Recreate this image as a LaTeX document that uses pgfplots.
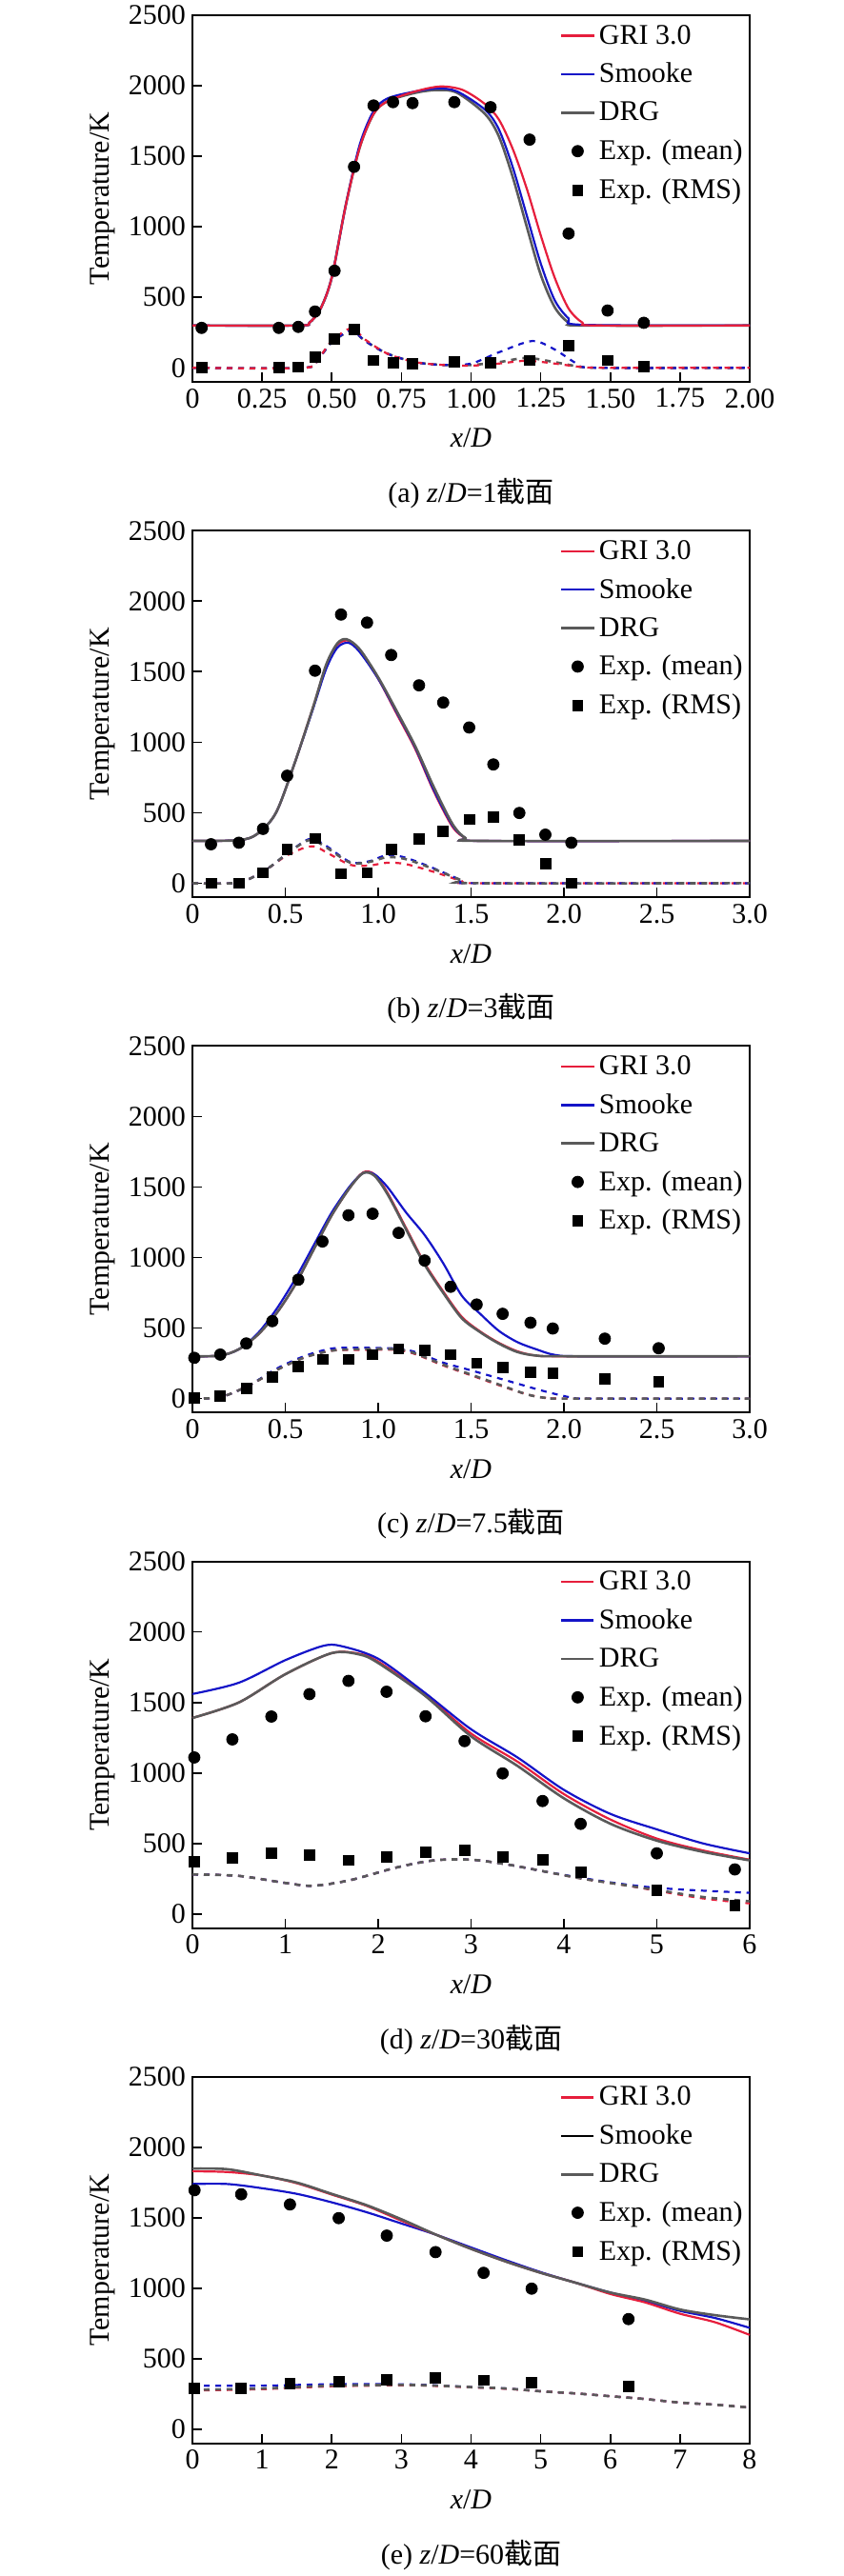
\documentclass[border=0pt]{standalone}
\usepackage{pgfplots}
\pgfplotsset{compat=1.18}
\usepackage{fontspec}
\setmainfont{Liberation Serif}
\newfontfamily\cjk{Noto Sans CJK SC}
\definecolor{gri}{RGB}{230,30,60}
\definecolor{smo}{RGB}{20,20,200}
\definecolor{drg}{RGB}{90,90,90}
\pgfplotsset{
  panel/.style={anchor=south west, width=292.5pt, height=192.5pt, scale only axis,
    ymin=-100, ymax=2500, ytick={0,500,...,2500}, xmin=0,
    tick align=inside, xtick pos=bottom, ytick pos=left, major tick length=5pt,
    axis line style={line width=1pt}, every tick/.style={line width=0.8pt,black},
    font=\fontsize{15}{18}\selectfont,
    /pgf/number format/assume math mode=true,
    /pgf/number format/set thousands separator={},
    ticklabel style={font=\fontsize{15}{18}\selectfont},
    ylabel={Temperature/K}, xlabel={\textit{x}/\textit{D}},
    xlabel style={yshift=-4pt},
    legend style={draw=none, fill=none, at={(rel axis cs:0.995,0.985)}, anchor=north east,
      font=\fontsize{15}{18}\selectfont, row sep=4.5pt, inner sep=0pt},
    legend cell align=left,
    clip=false},
  cg/.style={gri, line width=1.1pt, smooth},
  cs/.style={smo, line width=1.1pt, smooth},
  cd/.style={drg, line width=1.3pt, smooth},
  rg/.style={gri, line width=1.1pt, smooth, dashed},
  rs/.style={smo, line width=1.1pt, smooth, dashed},
  rd/.style={drg, line width=1.3pt, smooth, dashed},
  em/.style={only marks, mark=*, mark size=3pt, black},
  er/.style={only marks, mark=square*, mark size=2.7pt, black},
}
\newcommand{\legendset}[1]{%
  \addlegendimage{gri, line width=1.2pt}\addlegendentry{GRI 3.0}
  \addlegendimage{#1, line width=1.2pt}\addlegendentry{Smooke}
  \addlegendimage{drg, line width=1.4pt}\addlegendentry{DRG}
  \addlegendimage{only marks, mark=*, mark size=3pt, black}\addlegendentry{Exp. (mean)}
  \addlegendimage{only marks, mark=square*, mark size=2.7pt, black}\addlegendentry{Exp. (RMS)}}
\newcommand{\capt}[1]{\node[font=\fontsize{15}{18}\selectfont] at ([yshift=-58.5pt]rel axis cs:0.5,0) {#1};}
\begin{document}
\begin{tikzpicture}
\path[use as bounding box] (0,0) rectangle (443pt,-1352.5pt);
% (a)
\begin{axis}[panel, at={(101pt,-200.5pt)}, xmax=2, xtick={0,0.25,...,2}, xticklabels={0,0.25,0.50,0.75,1.00,1.25,1.50,1.75,2.00}]
\legendset{smo}
\addplot[cd, forget plot] coordinates {(0,300)(0.38,300)(0.42,320)(0.46,420)(0.5,640)(0.55,1150)(0.6,1560)(0.65,1800)(0.7,1890)(0.8,1950)(0.88,1970)(0.95,1950)(1.05,1800)(1.1,1640)(1.15,1350)(1.2,1000)(1.25,660)(1.3,430)(1.35,320)(1.4,300)(2,300)};
\addplot[cs, forget plot] coordinates {(0,300)(0.38,300)(0.42,320)(0.46,420)(0.5,640)(0.55,1150)(0.6,1580)(0.65,1820)(0.7,1910)(0.8,1960)(0.88,1980)(0.95,1960)(1.05,1830)(1.1,1690)(1.15,1420)(1.2,1080)(1.25,740)(1.3,480)(1.35,350)(1.4,305)(2,300)};
\addplot[cg, forget plot] coordinates {(0,300)(0.38,300)(0.42,320)(0.46,420)(0.5,640)(0.55,1150)(0.6,1560)(0.65,1800)(0.7,1890)(0.8,1960)(0.89,1995)(0.97,1970)(1.05,1870)(1.1,1760)(1.15,1550)(1.2,1270)(1.25,940)(1.3,640)(1.35,420)(1.4,320)(1.45,300)(2,300)};
\addplot[rd, forget plot] coordinates {(0,0)(0.4,0)(0.45,60)(0.5,180)(0.57,260)(0.62,190)(0.7,100)(0.8,40)(0.9,20)(1.0,20)(1.1,40)(1.2,70)(1.3,40)(1.4,5)(1.5,0)(2,0)};
\addplot[rs, forget plot] coordinates {(0,0)(0.4,0)(0.45,60)(0.5,180)(0.57,265)(0.62,190)(0.7,100)(0.8,40)(0.9,20)(1.0,30)(1.1,110)(1.22,190)(1.3,130)(1.38,30)(1.45,0)(2,0)};
\addplot[rg, forget plot] coordinates {(0,0)(0.4,0)(0.45,60)(0.5,190)(0.57,280)(0.62,200)(0.7,100)(0.8,40)(0.9,20)(1.0,15)(1.1,30)(1.2,50)(1.3,30)(1.4,5)(1.5,0)(2,0)};
\addplot[em, forget plot] coordinates {(0.033,283)(0.31,283)(0.38,290)(0.44,399)(0.51,688)(0.58,1425)(0.65,1860)(0.72,1884)(0.79,1877)(0.94,1884)(1.07,1848)(1.21,1618)(1.35,952)(1.49,406)(1.62,319)};
\addplot[er, forget plot] coordinates {(0.033,0)(0.31,0)(0.38,5)(0.44,77)(0.51,205)(0.58,270)(0.65,53)(0.72,34)(0.79,29)(0.94,43)(1.07,34)(1.21,53)(1.35,157)(1.49,53)(1.62,10)};
\capt{(a) \textit{z}/\textit{D}=1{\cjk 截面}}
\end{axis}
% (b)
\begin{axis}[panel, at={(101pt,-471.1pt)}, xmax=3, xtick={0,0.5,...,3}, xticklabels={0,0.5,1.0,1.5,2.0,2.5,3.0}]
\legendset{smo}
\addplot[cg, forget plot] coordinates {(0,300)(0.25,305)(0.35,350)(0.45,500)(0.55,850)(0.65,1250)(0.72,1540)(0.78,1690)(0.84,1720)(0.9,1650)(1.0,1450)(1.1,1200)(1.2,950)(1.3,650)(1.4,400)(1.47,320)(1.55,300)(3,300)};
\addplot[cs, forget plot] coordinates {(0,300)(0.25,305)(0.35,350)(0.45,500)(0.55,850)(0.65,1240)(0.72,1520)(0.78,1670)(0.84,1705)(0.9,1640)(1.0,1450)(1.1,1210)(1.2,960)(1.3,660)(1.4,410)(1.47,320)(1.55,300)(3,300)};
\addplot[cd, forget plot] coordinates {(0,300)(0.25,305)(0.35,350)(0.45,500)(0.55,850)(0.65,1250)(0.72,1550)(0.78,1700)(0.83,1730)(0.9,1660)(1.0,1460)(1.1,1220)(1.2,970)(1.3,680)(1.4,420)(1.47,320)(1.55,300)(3,300)};
\addplot[rg, forget plot] coordinates {(0,0)(0.25,5)(0.4,100)(0.5,190)(0.6,250)(0.66,260)(0.72,220)(0.85,130)(0.95,125)(1.05,145)(1.15,135)(1.3,80)(1.45,15)(1.52,0)(3,0)};
\addplot[rs, forget plot] coordinates {(0,0)(0.25,5)(0.4,100)(0.5,200)(0.6,295)(0.65,315)(0.72,265)(0.85,150)(0.95,155)(1.05,200)(1.15,180)(1.3,105)(1.45,20)(1.52,0)(3,0)};
\addplot[rd, forget plot] coordinates {(0,0)(0.25,5)(0.4,100)(0.5,200)(0.6,290)(0.65,305)(0.72,255)(0.85,145)(0.95,150)(1.05,185)(1.15,170)(1.3,100)(1.45,20)(1.52,0)(3,0)};
\addplot[em, forget plot] coordinates {(0.10,276)(0.25,287)(0.38,385)(0.51,762)(0.66,1507)(0.80,1905)(0.94,1848)(1.07,1618)(1.22,1403)(1.35,1281)(1.49,1104)(1.62,842)(1.76,498)(1.90,344)(2.04,287)};
\addplot[er, forget plot] coordinates {(0.10,0)(0.25,0)(0.38,75)(0.51,238)(0.66,317)(0.80,68)(0.94,75)(1.07,242)(1.22,312)(1.35,369)(1.49,452)(1.62,471)(1.76,305)(1.90,136)(2.04,0)};
\capt{(b) \textit{z}/\textit{D}=3{\cjk 截面}}
\end{axis}
% (c)
\begin{axis}[panel, at={(101pt,-741.7pt)}, xmax=3, xtick={0,0.5,...,3}, xticklabels={0,0.5,1.0,1.5,2.0,2.5,3.0}]
\legendset{smo}
\addplot[cg, forget plot] coordinates {(0,300)(0.15,305)(0.25,350)(0.35,450)(0.45,600)(0.55,800)(0.65,1050)(0.75,1300)(0.85,1500)(0.92,1605)(0.98,1590)(1.05,1460)(1.15,1210)(1.25,960)(1.35,760)(1.45,580)(1.55,475)(1.65,395)(1.75,335)(1.85,305)(2.0,300)(3,300)};
\addplot[cs, forget plot] coordinates {(0,300)(0.15,305)(0.25,350)(0.35,460)(0.45,630)(0.55,840)(0.65,1080)(0.75,1320)(0.85,1510)(0.92,1600)(0.98,1590)(1.05,1500)(1.15,1320)(1.25,1160)(1.35,960)(1.45,730)(1.55,600)(1.65,480)(1.75,400)(1.85,350)(1.95,310)(2.1,300)(3,300)};
\addplot[cd, forget plot] coordinates {(0,300)(0.15,305)(0.25,350)(0.35,450)(0.45,600)(0.55,800)(0.65,1050)(0.75,1300)(0.85,1500)(0.92,1600)(0.98,1580)(1.05,1450)(1.15,1200)(1.25,950)(1.35,750)(1.45,570)(1.55,470)(1.65,390)(1.75,330)(1.85,305)(2.0,300)(3,300)};
\addplot[rg, forget plot] coordinates {(0,0)(0.15,10)(0.3,90)(0.45,200)(0.6,290)(0.75,340)(0.9,345)(1.1,345)(1.2,315)(1.35,235)(1.5,165)(1.65,95)(1.8,30)(1.9,5)(2.0,0)(3,0)};
\addplot[rs, forget plot] coordinates {(0,0)(0.15,10)(0.3,90)(0.45,210)(0.6,300)(0.75,355)(0.9,360)(1.1,355)(1.2,330)(1.35,255)(1.5,200)(1.7,125)(1.9,50)(2.05,5)(2.15,0)(3,0)};
\addplot[rd, forget plot] coordinates {(0,0)(0.15,10)(0.3,90)(0.45,200)(0.6,290)(0.75,340)(0.9,350)(1.1,350)(1.2,320)(1.35,240)(1.5,170)(1.65,100)(1.8,30)(1.9,5)(2.0,0)(3,0)};
\addplot[em, forget plot] coordinates {(0.01,289)(0.15,312)(0.29,391)(0.43,549)(0.57,843)(0.70,1114)(0.84,1300)(0.97,1311)(1.11,1175)(1.25,979)(1.39,793)(1.53,667)(1.67,601)(1.82,538)(1.94,497)(2.22,425)(2.51,357)};
\addplot[er, forget plot] coordinates {(0.01,7)(0.15,18)(0.29,75)(0.43,154)(0.57,226)(0.70,278)(0.84,278)(0.97,312)(1.11,353)(1.25,341)(1.39,312)(1.53,251)(1.67,222)(1.82,188)(1.94,181)(2.22,142)(2.51,120)};
\capt{(c) \textit{z}/\textit{D}=7.5{\cjk 截面}}
\end{axis}
% (d)
\begin{axis}[panel, at={(101pt,-1012.3pt)}, xmax=6, xtick={0,1,...,6}]
\legendset{smo}
\addplot[cg, forget plot] coordinates {(0,1390)(0.5,1500)(1,1700)(1.5,1850)(1.8,1845)(2,1790)(2.5,1560)(3,1280)(3.5,1080)(4,850)(4.5,670)(5,535)(5.5,450)(6,385)};
\addplot[cs, forget plot] coordinates {(0,1560)(0.5,1640)(1,1800)(1.4,1900)(1.6,1900)(2,1810)(2.5,1570)(3,1310)(3.5,1110)(4,880)(4.5,710)(5,600)(5.5,500)(6,430)};
\addplot[cd, forget plot] coordinates {(0,1390)(0.5,1500)(1,1700)(1.5,1850)(1.8,1840)(2,1780)(2.5,1550)(3,1260)(3.5,1050)(4,820)(4.5,640)(5,520)(5.5,440)(6,380)};
\addplot[rg, forget plot] coordinates {(0,280)(0.5,270)(1,220)(1.3,200)(1.7,240)(2.2,330)(2.6,380)(3,385)(3.4,350)(3.8,300)(4.2,250)(4.6,210)(5,165)(5.5,110)(6,75)};
\addplot[rs, forget plot] coordinates {(0,280)(0.5,270)(1,220)(1.3,200)(1.7,240)(2.2,330)(2.6,380)(3,385)(3.4,350)(3.8,300)(4.2,255)(4.6,215)(5,185)(5.5,165)(6,150)};
\addplot[rd, forget plot] coordinates {(0,280)(0.5,270)(1,220)(1.3,200)(1.7,240)(2.2,330)(2.6,380)(3,385)(3.4,350)(3.8,300)(4.2,250)(4.6,210)(5,170)(5.5,120)(6,90)};
\addplot[em, forget plot] coordinates {(0.02,1110)(0.43,1238)(0.85,1400)(1.26,1559)(1.68,1653)(2.09,1576)(2.51,1402)(2.93,1226)(3.34,997)(3.77,801)(4.18,639)(5.0,430)(5.84,316)};
\addplot[er, forget plot] coordinates {(0.02,369)(0.43,398)(0.85,430)(1.26,417)(1.68,381)(2.09,405)(2.51,437)(2.93,454)(3.34,405)(3.77,386)(4.18,297)(5.0,171)(5.84,60)};
\capt{(d) \textit{z}/\textit{D}=30{\cjk 截面}}
\end{axis}
% (e)
\begin{axis}[panel, at={(101pt,-1282.9pt)}, xmax=8, xtick={0,1,...,8}]
\legendset{black}
\addplot[cs, forget plot] coordinates {(0,1740)(0.5,1740)(1,1710)(1.5,1670)(2,1610)(2.5,1540)(3,1460)(3.5,1380)(4,1290)(4.5,1200)(5,1115)(5.5,1040)(6,970)(6.5,910)(7,840)(7.5,790)(8,720)};
\addplot[cg, forget plot] coordinates {(0,1830)(0.5,1825)(1,1800)(1.5,1745)(2,1665)(2.5,1585)(3,1480)(3.5,1380)(4,1280)(4.5,1190)(5,1110)(5.5,1040)(6,960)(6.5,900)(7,820)(7.5,760)(8,670)};
\addplot[cd, forget plot] coordinates {(0,1850)(0.5,1845)(1,1800)(1.5,1750)(2,1670)(2.5,1590)(3,1490)(3.5,1380)(4,1280)(4.5,1190)(5,1110)(5.5,1040)(6,970)(6.5,920)(7,850)(7.5,810)(8,780)};
\addplot[rs, forget plot] coordinates {(0,310)(1,310)(2,320)(3,320)(3.5,312)(4,300)(4.5,290)(5,270)(5.5,255)(6,235)(6.5,215)(7,190)(7.5,175)(8,155)};
\addplot[rg, forget plot] coordinates {(0,275)(1,285)(2,305)(3,312)(3.5,308)(4,298)(4.5,288)(5,270)(5.5,255)(6,235)(6.5,215)(7,190)(7.5,175)(8,155)};
\addplot[rd, forget plot] coordinates {(0,280)(1,290)(2,310)(3,315)(3.5,310)(4,300)(4.5,290)(5,270)(5.5,255)(6,235)(6.5,215)(7,190)(7.5,175)(8,155)};
\addplot[em, forget plot] coordinates {(0.03,1696)(0.70,1667)(1.40,1595)(2.10,1498)(2.79,1374)(3.49,1257)(4.18,1110)(4.87,998)(6.26,782)};
\addplot[er, forget plot] coordinates {(0.03,293)(0.70,293)(1.40,327)(2.10,338)(2.79,354)(3.49,367)(4.18,349)(4.87,333)(6.26,304)};
\capt{(e) \textit{z}/\textit{D}=60{\cjk 截面}}
\end{axis}
\end{tikzpicture}
\end{document}
